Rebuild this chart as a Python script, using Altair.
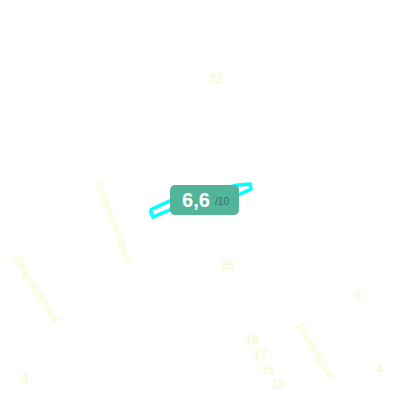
import altair as alt
import pandas as pd

# Road outline in map units
road_x = [150, 172, 238, 250, 251, 238, 172, 153, 150]
road_y = [210, 200, 185, 184, 189, 195, 209, 217, 210]
road_order = list(range(len(road_x)))

num_labels = ["32", "28", "19", "17", "15", "13", "6", "4", "3"]
num_x = [216, 227, 252, 260, 268, 278, 358, 379, 25]
num_y = [79, 265, 340, 355, 370, 384, 295, 369, 379]

street_labels = ["Guldenmoerstraat", "Slotgrachtstraat", "Roelenstraat"]
street_x = [113, 36, 315]
street_y = [222, 289, 351]
street_angle = [69, 58, 58]

badge_x = [170]
badge_x2 = [239]
badge_y = [185]
badge_y2 = [215]

X = alt.Scale(domain=[0, 384], range=[0, 384])
Y = alt.Scale(domain=[0, 384], range=[0, 384])
off = 8  # page margin

road = pd.DataFrame({"x": [v - off for v in road_x], "y": [v - off for v in road_y], "o": road_order})
nums = pd.DataFrame({"x": [v - off for v in num_x], "y": [v - off for v in num_y], "t": num_labels})
streets = pd.DataFrame({"x": [v - off for v in street_x], "y": [v - off for v in street_y], "t": street_labels, "a": street_angle})
badge = pd.DataFrame({"x": [v - off for v in badge_x], "x2": [v - off for v in badge_x2],
                      "y": [v - off for v in badge_y], "y2": [v - off for v in badge_y2]})
score = pd.DataFrame({"x": [196 - off], "y": [201 - off], "t": ["6,6"]})
suffix = pd.DataFrame({"x": [222 - off], "y": [202 - off], "t": ["/10"]})

xe = alt.X("x:Q", scale=X, axis=None)
ye = alt.Y("y:Q", scale=Y, axis=None)

road_l = alt.Chart(road).mark_line(color="#00ffff", strokeWidth=3.5, interpolate="linear", strokeJoin="miter").encode(x=xe, y=ye, order="o:Q")
nums_l = alt.Chart(nums).mark_text(color="#eafcc8", font="Liberation Sans", fontSize=12).encode(x=xe, y=ye, text="t:N")
streets_l = alt.Chart(streets).mark_text(color="#f5fcc8", font="Liberation Sans", fontSize=11).encode(
    x=xe, y=ye, text="t:N", angle=alt.Angle("a:Q", scale=None))
badge_l = alt.Chart(badge).mark_rect(color="#52b59a", cornerRadius=5).encode(
    x=xe, x2="x2:Q", y=ye, y2="y2:Q")
score_l = alt.Chart(score).mark_text(color="white", font="Liberation Sans", fontSize=20, fontWeight="bold").encode(x=xe, y=ye, text="t:N")
suffix_l = alt.Chart(suffix).mark_text(color="#2f6f60", font="Liberation Sans", fontSize=10).encode(x=xe, y=ye, text="t:N")

chart = (road_l + nums_l + streets_l + badge_l + score_l + suffix_l).properties(
    width=384, height=384, padding=0
).configure_view(stroke=None)

chart.save("out.html", embed_options={"renderer": "svg", "actions": False})
